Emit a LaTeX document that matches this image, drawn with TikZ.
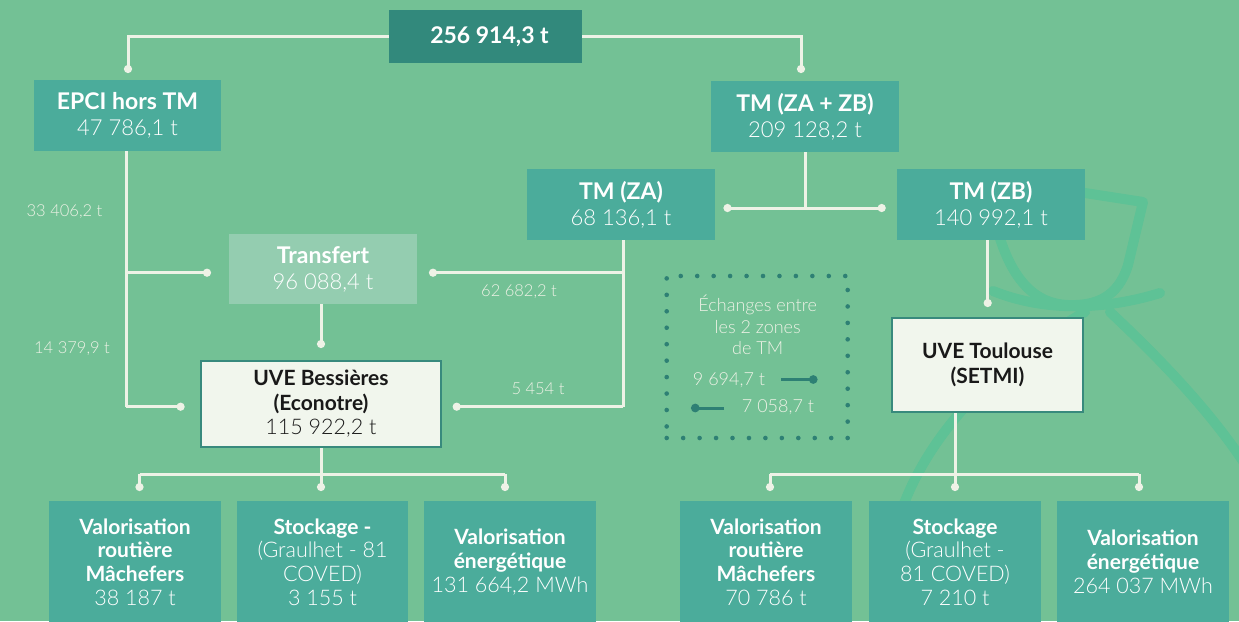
\documentclass[tikz,border=0pt]{standalone}
\usepackage{fontspec}
\setmainfont{Lato}
\newfontfamily\lightf{Lato Light}
\usetikzlibrary{arrows.meta}
\definecolor{bg}{HTML}{73C195}
\definecolor{tealb}{HTML}{4BAC9B}
\definecolor{dteal}{HTML}{32897C}
\definecolor{ltr}{HTML}{94CDB0}
\definecolor{uvef}{HTML}{F1F6ED}
\definecolor{uved}{HTML}{388A7D}
\definecolor{lin}{HTML}{EEF2E6}
\definecolor{dotc}{HTML}{2E8074}
\definecolor{bagc}{HTML}{5EC296}
\newcommand\hdf{\fontsize{23}{26}\selectfont\bfseries}
\newcommand\nmf{\lightf\fontsize{22}{26}\selectfont}
\newcommand\bhf{\fontsize{21}{23.5}\selectfont\bfseries}
\newcommand\bnf{\lightf\fontsize{21.5}{23.5}\selectfont}
\begin{document}
\begin{tikzpicture}[x=1pt,y=-1pt,
  boxbase/.style={rectangle, inner sep=0pt, align=center},
  tbox/.style={boxbase, fill=tealb, text=white, font=\fontsize{21.5}{26}\selectfont},
  bbox/.style={boxbase, fill=tealb, text=white, font=\fontsize{21}{23.8}\selectfont},
  uvebox/.style={boxbase, fill=uvef, draw=uved, line width=2.5pt, text=black!90, font=\fontsize{21}{24.5}\selectfont},
  con/.style={draw=lin, line width=3pt},
  dotend/.style={con, -{Circle[length=8pt,width=8pt]}},
  lbl/.style={text=lin, font=\lightf\fontsize{16.5}{18}\selectfont, inner sep=0pt},
  bagline/.style={draw=bagc, line width=10pt, line cap=round, line join=round}]
\useasboundingbox (0,0) rectangle (1239,621);
\fill[bg] (0,0) rectangle (1239,621);
% background bag decoration
\begin{scope}
\clip (0,0) rectangle (1239,621);
\draw[bagline] (1085,193) -- (1143,202) -- (1128,265) .. controls (1118,298) and (1095,306) .. (1068,305) .. controls (1035,304) and (1012,280) .. (998,232);
\draw[bagline] (993,291) .. controls (1045,312) and (1105,310) .. (1160,293);
\draw[bagline] (1110,312) .. controls (1170,368) and (1222,425) .. (1255,480);
\draw[bagline] (1085,312) .. controls (1000,360) and (915,440) .. (893,540) -- (883,640);
\end{scope}
% nodes
\node[boxbase, fill=dteal, text=white, minimum width=193pt, minimum height=53pt, font=\hdf] (top) at (485.5,36.5) {\hspace*{8pt}256 914,3 t};
\node[tbox, minimum width=187pt, minimum height=71pt] (epci) at (127.5,115.5) {{\hdf EPCI hors TM}\\{\nmf 47 786,1 t}};
\node[tbox, minimum width=188pt, minimum height=71pt] (zazb) at (805,116.5) {{\hdf TM (ZA + ZB)}\\{\nmf 209 128,2 t}};
\node[tbox, minimum width=188pt, minimum height=71pt] (za) at (621,204.5) {{\hdf TM (ZA)}\\{\nmf 68 136,1 t}};
\node[tbox, minimum width=188pt, minimum height=71pt] (zb) at (991,204.5) {{\hdf TM (ZB)}\\{\nmf 140 992,1 t}};
\node[tbox, fill=ltr, minimum width=188pt, minimum height=70pt] (tr) at (323,269) {{\hdf Transfert}\\{\nmf 96 088,4 t}};
\node[uvebox, minimum width=240pt, minimum height=86pt] (ub) at (321,404) {{\bhf UVE Bessières}\\{\bhf (Econotre)}\\{\bnf 115 922,2 t}};
\node[uvebox, minimum width=191pt, minimum height=94pt] (ut) at (987.5,365) {{\bhf UVE Toulouse}\\{\bhf (SETMI)}};
\node[bbox, minimum width=172pt, minimum height=122pt] (l1) at (135,562) {{\bhf Valorisation}\\{\bhf routière}\\{\bhf Mâchefers}\\{\bnf 38 187 t}};
\node[bbox, minimum width=171pt, minimum height=122pt] (l2) at (322.5,562) {{\bhf Stockage -}\\{\bnf (Graulhet - 81}\\{\bnf COVED)}\\{\bnf 3 155 t}};
\node[bbox, minimum width=172pt, minimum height=122pt] (l3) at (510,562) {{\bhf Valorisation}\\{\bhf énergétique}\\{\bnf 131 664,2 MWh}};
\node[bbox, minimum width=172pt, minimum height=122pt] (r1) at (766,562) {{\bhf Valorisation}\\{\bhf routière}\\{\bhf Mâchefers}\\{\bnf 70 786 t}};
\node[bbox, minimum width=172pt, minimum height=122pt] (r2) at (955,562) {{\bhf Stockage}\\{\bnf (Graulhet -}\\{\bnf 81 COVED)}\\{\bnf 7 210 t}};
\node[bbox, minimum width=172pt, minimum height=122pt] (r3) at (1143,562) {{\bhf Valorisation}\\{\bhf énergétique}\\{\bnf 264 037 MWh}};
% flow labels
\node[lbl] (f1) at (64.5,212) {33 406,2 t};
\node[lbl] (f2) at (72,349) {14 379,9 t};
\node[lbl] (f3) at (519,292) {62 682,2 t};
\node[lbl] (f4) at (538,389) {5 454 t};
% exchange box
\node[draw=dotc, line width=4.6pt, line cap=round, dash pattern=on 0pt off 16.45pt, minimum width=181pt, minimum height=162pt, inner sep=0pt] (xb) at (757.2,357) {};
\node[text=lin, align=center, font=\lightf\fontsize{18}{21.5}\selectfont, inner sep=0pt] (xt) at (757.7,325) {Échanges entre\\les 2 zones\\de TM};
\node[lbl, font=\lightf\fontsize{18}{20}\selectfont] (x1) at (729,380) {9 694,7 t};
\node[lbl, font=\lightf\fontsize{18}{20}\selectfont] (x2) at (778,407) {7 058,7 t};
\coordinate (x1a) at (781,379.5);
\coordinate (x1b) at (817.5,379.5);
\coordinate (x2a) at (724,408);
\coordinate (x2b) at (691,408);
\draw[draw=dotc, line width=3pt, -{Circle[length=8.5pt,width=8.5pt]}] (x1a) -- (x1b);
\draw[draw=dotc, line width=3pt, -{Circle[length=8.5pt,width=8.5pt]}] (x2a) -- (x2b);
% junction coordinates
\coordinate (dep) at (128,73);
\coordinate (dzz) at (801,73);
\coordinate (jzz) at (805,208);
\coordinate (dza) at (723.5,208);
\coordinate (dzb) at (885.7,208);
\coordinate (jza1) at (623,272.7);
\coordinate (jza2) at (623,406.7);
\coordinate (dtrr) at (429,272.7);
\coordinate (dubr) at (452.7,406.7);
\coordinate (jep1) at (126,272.7);
\coordinate (jep2) at (126,406.7);
\coordinate (dtrl) at (211,272.7);
\coordinate (dubl) at (184.6,406.7);
\coordinate (dubt) at (321,348);
\coordinate (jub) at (321,474);
\coordinate (jubl) at (139.5,474);
\coordinate (jubr) at (505,474);
\coordinate (dl1) at (139.5,491);
\coordinate (dl2) at (321,491);
\coordinate (dl3) at (505,491);
\coordinate (dut) at (987.7,307);
\coordinate (jut) at (955,474);
\coordinate (jutl) at (770,474);
\coordinate (jutr) at (1139,474);
\coordinate (dr1) at (770,491);
\coordinate (dr2) at (955,491);
\coordinate (dr3) at (1139,491);
% connectors
\draw[dotend] (top.west) -| (dep);
\draw[dotend] (top.east) -| (dzz);
\draw[con] (zazb.south) -- (jzz);
\draw[dotend] (jzz) -- (dza);
\draw[dotend] (jzz) -- (dzb);
\draw[con] ([xshift=2pt]za.south) -- (jza2);
\draw[dotend] (jza1) -- (dtrr);
\draw[dotend] (jza2) -- (dubr);
\draw[con] ([xshift=-1.5pt]epci.south) -- (jep2);
\draw[dotend] (jep1) -- (dtrl);
\draw[dotend] (jep2) -- (dubl);
\draw[dotend] ([xshift=-2pt]tr.south) -- (dubt);
\draw[con] (ub.south) -- (jub);
\draw[con] (jubl) -- (jubr);
\draw[dotend] (jubl) -- (dl1);
\draw[dotend] (jub) -- (dl2);
\draw[dotend] (jubr) -- (dl3);
\draw[dotend] ([xshift=-3.3pt]zb.south) -- (dut);
\draw[con] ([xshift=-32.5pt]ut.south) -- (jut);
\draw[con] (jutl) -- (jutr);
\draw[dotend] (jutl) -- (dr1);
\draw[dotend] (jut) -- (dr2);
\draw[dotend] (jutr) -- (dr3);
\end{tikzpicture}
\end{document}
